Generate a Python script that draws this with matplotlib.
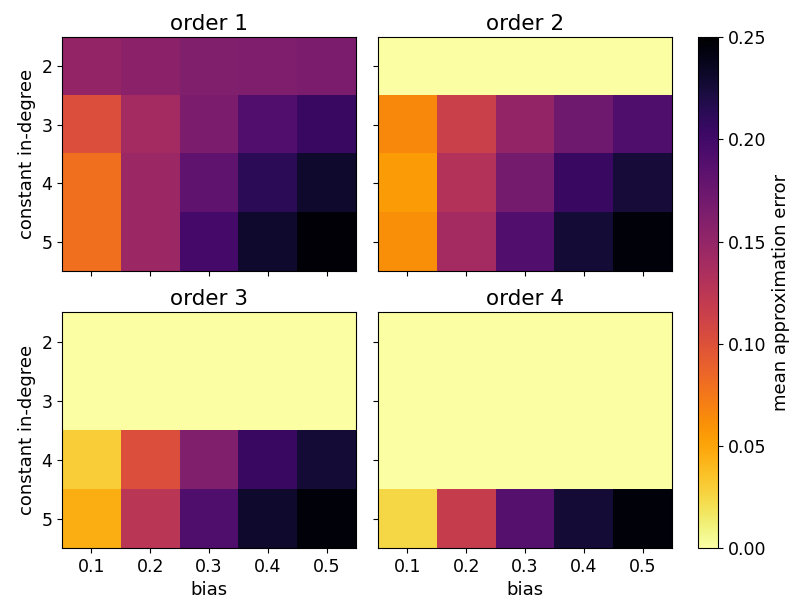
import matplotlib
matplotlib.use("Agg")
import matplotlib.pyplot as plt
import numpy as np

bias = [0.1, 0.2, 0.3, 0.4, 0.5]
in_degree = [2, 3, 4, 5]

# mean approximation error, rows = in-degree 2..5, cols = bias 0.1..0.5
order1 = [[0.150, 0.155, 0.162, 0.163, 0.165],
          [0.102, 0.140, 0.165, 0.190, 0.205],
          [0.080, 0.145, 0.182, 0.212, 0.230],
          [0.080, 0.145, 0.198, 0.230, 0.248]]
order2 = [[0.000, 0.000, 0.000, 0.000, 0.000],
          [0.065, 0.115, 0.150, 0.172, 0.192],
          [0.055, 0.130, 0.168, 0.205, 0.225],
          [0.062, 0.140, 0.190, 0.226, 0.246]]
order3 = [[0.000, 0.000, 0.000, 0.000, 0.000],
          [0.000, 0.000, 0.000, 0.000, 0.000],
          [0.030, 0.102, 0.162, 0.205, 0.226],
          [0.045, 0.125, 0.192, 0.230, 0.246]]
order4 = [[0.000, 0.000, 0.000, 0.000, 0.000],
          [0.000, 0.000, 0.000, 0.000, 0.000],
          [0.000, 0.000, 0.000, 0.000, 0.000],
          [0.025, 0.118, 0.188, 0.226, 0.246]]
titles = ["order 1", "order 2", "order 3", "order 4"]

fig = plt.figure(figsize=(8, 6.08), dpi=100)
positions = [[0.0775, 0.554, 0.3675, 0.385],
             [0.4725, 0.554, 0.3675, 0.385],
             [0.0775, 0.0987, 0.3675, 0.388],
             [0.4725, 0.0987, 0.3675, 0.388]]

for i, (data, title, pos) in enumerate(zip([order1, order2, order3, order4], titles, positions)):
    ax = fig.add_axes(pos)
    im = ax.imshow(np.array(data), cmap="inferno_r", vmin=0, vmax=0.25, aspect="auto",
                   extent=[bias[0] - 0.05, bias[-1] + 0.05, in_degree[-1] + 0.5, in_degree[0] - 0.5])
    ax.set_title(title, fontsize=15.5, pad=5)
    ax.set_xticks(bias)
    ax.set_yticks(in_degree)
    ax.tick_params(labelsize=12.5)
    if i >= 2:
        ax.set_xticklabels([str(b) for b in bias])
        ax.set_xlabel("bias", fontsize=13)
    else:
        ax.set_xticklabels([])
    if i % 2 == 0:
        ax.set_ylabel("constant in-degree", fontsize=13)
    else:
        ax.set_yticklabels([])

cax = fig.add_axes([0.8725, 0.0987, 0.025, 0.840])
cb = fig.colorbar(im, cax=cax)
cb.set_ticks([0, 0.05, 0.1, 0.15, 0.2, 0.25])
cb.set_ticklabels(["0.00", "0.05", "0.10", "0.15", "0.20", "0.25"])
cb.ax.tick_params(labelsize=12.5)
cb.set_label("mean approximation error", fontsize=13)

fig.savefig("out.png", dpi=100)
